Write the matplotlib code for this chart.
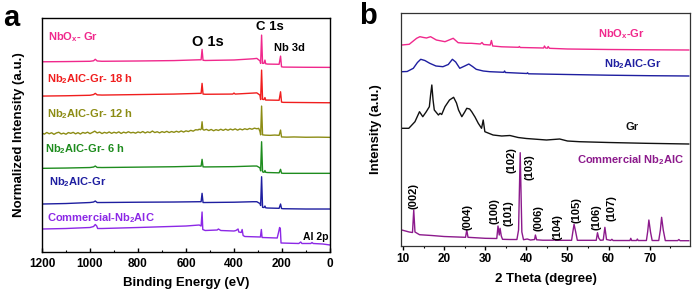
import matplotlib
matplotlib.use("Agg")
import matplotlib.pyplot as plt
from matplotlib.ticker import MultipleLocator

plt.rcParams['font.family'] = ['Liberation Sans', 'DejaVu Sans']
plt.rcParams['font.weight'] = 'bold'
plt.rcParams['mathtext.fontset'] = 'custom'
plt.rcParams['mathtext.rm'] = 'Liberation Sans:bold'
plt.rcParams['mathtext.it'] = 'Liberation Sans:bold'
plt.rcParams['mathtext.bf'] = 'Liberation Sans:bold'

# ---------------- (a) XPS survey : (binding energy eV, intensity a.u.) ----------------
xps_nbox_gr = [(1200, 0), (1100, 0.2), (1000, 0.5), (985, 1), (978, 2.5), (970, 0.8), (950, 0.5),
               (800, 0.8), (650, 1.2), (545, 2), (537, 2), (533, 12.4), (529, 1.5), (520, 1.3),
               (400, 1.8), (320, 3), (305, 3.4), (292, 1), (289, -1.6), (285, 26.7), (281, -1.6),
               (275, -1.5), (271, 1.7), (268, -2), (260, -2.3), (212, -2.5), (206, 5.7), (202, -5),
               (195, -5.3), (100, -5.5), (0, -5.6)]
xps_18h = [(1200, 0), (1100, 0.3), (1000, 0.8), (985, 1.5), (978, 2.7), (970, 1.2), (950, 1),
           (800, 1.5), (650, 2), (545, 2.7), (537, 2.7), (533, 12.7), (529, 2), (520, 1.8),
           (405, 2), (400, 3), (395, 2), (320, 3), (305, 3.2), (292, 1), (289, -3.5), (285, 26),
           (281, -3.3), (275, -3.5), (271, -1.5), (268, -4), (260, -4), (212, -4.2), (206, 4.3),
           (202, -6), (195, -6.3), (100, -6.5), (0, -6.7)]
xps_12h = [(1200, 0.3), (1190, -0.8), (1180, 0.9), (1170, -0.4), (1160, 0.6), (1150, -1.0),
           (1140, 0.4), (1130, 1.1), (1120, -0.6), (1110, 0.2), (1100, -0.9), (1090, 0.8),
           (1080, 0.0), (1070, 1.0), (1060, -0.5), (1050, 0.7), (1040, -0.7), (1030, 0.9),
           (1020, 0.1), (1010, 1.2), (1000, -0.3), (990, 0.9), (980, 2.2), (970, 0.4), (960, 1.3),
           (950, -0.2), (940, 1.0), (930, 0.2), (920, 1.4), (910, 0.0), (900, 1.1), (890, 0.3),
           (880, 1.5), (870, -0.1), (860, 1.2), (850, 0.4), (840, 1.6), (830, 0.5), (820, 1.0),
           (810, 0.2), (800, 1.4), (790, 0.6), (780, 1.8), (770, 0.4), (760, 1.5), (750, 0.7),
           (740, 2.3), (730, 0.8), (720, 1.6), (710, 0.5), (700, 1.7), (690, 0.9), (680, 2.0),
           (670, 0.8), (660, 1.8), (650, 1.0), (640, 2.1), (630, 1.2), (620, 2.4), (610, 1.3),
           (600, 2.5), (590, 1.8), (580, 3.0), (570, 2.2), (560, 3.6), (550, 3.4), (545, 4.2),
           (540, 3.6), (536, 4.5), (533, 11.6), (530, 4.0), (525, 3.2), (515, 4.0), (505, 2.8),
           (495, 3.9), (485, 2.6), (475, 3.7), (465, 2.9), (455, 4.1), (445, 3.0), (435, 4.2),
           (425, 3.1), (415, 4.3), (405, 3.4), (395, 4.5), (385, 3.2), (375, 4.4), (365, 3.5),
           (355, 4.6), (345, 3.8), (335, 4.9), (325, 4.1), (315, 5.2), (305, 4.6), (297, 5.0),
           (292, 2.0), (289, -1.5), (285, 27.3), (281, -1.5), (270, -1.8), (250, -2.0),
           (230, -1.7), (212, -2.0), (206, 3.3), (202, -3.6), (180, -3.8), (150, -3.6),
           (100, -3.9), (50, -3.8), (0, -4.0)]
xps_6h = [(1200, 0), (1100, 0.3), (1000, 0.8), (985, 1.3), (978, 2.3), (970, 0.9), (950, 0.8),
          (800, 1.2), (650, 1.6), (545, 2.2), (537, 2.2), (533, 9), (529, 1.5), (520, 1.4),
          (400, 1.7), (320, 2.3), (305, 2.3), (292, 0.5), (289, -2.5), (285, 26.6), (281, -3.5),
          (275, -4), (271, -2.2), (268, -4), (260, -4.2), (212, -4.5), (206, -1), (202, -4.8),
          (195, -5), (100, -5), (0, -5)]
xps_nb2alc_gr = [(1200, 0), (1100, 0.5), (1000, 1.5), (985, 2), (978, 3), (970, 1.5), (950, 1.5),
                 (800, 1.8), (650, 2), (545, 2.3), (537, 2.3), (533, 10.7), (529, 1.5), (520, 1.5),
                 (400, 1.8), (320, 2.3), (305, 2.3), (292, 0.5), (289, -1.5), (285, 27.3),
                 (281, -3.3), (275, -3.5), (271, -2), (268, -3.8), (260, -4), (212, -4.3),
                 (206, 0), (202, -4.5), (195, -4.7), (100, -5), (0, -5)]
xps_commercial = [(1200, 0), (1100, 0.5), (1000, 1.5), (985, 2.5), (978, 4.5), (972, 3), (968, 0.5),
                  (950, 0.5), (800, 1.5), (600, 3), (545, 4), (537, 3), (533, 17), (530, -0.5),
                  (520, -1.5), (470, -1), (465, 0), (455, -1.5), (400, -2), (392, -1.5), (383, 0),
                  (380, -3), (370, -3.5), (366, -0.5), (362, -6.5), (355, -7.5), (290, -8),
                  (286, -0.5), (283, -8.5), (220, -9), (213, -2), (210, 1.5), (207, 0.5),
                  (204, -14), (130, -14.5), (122, -13), (117, -14.5), (80, -14.5), (75, -13.5),
                  (70, -14.5), (30, -15), (0, -16)]

xps_series = [xps_nbox_gr, xps_18h, xps_12h, xps_6h, xps_nb2alc_gr, xps_commercial]
xps_names = ["NbO$_x$- Gr", "Nb$_2$AlC-Gr- 18 h", "Nb$_2$AlC-Gr- 12 h", "Nb$_2$AlC-Gr- 6 h",
             "Nb$_2$AlC-Gr", "Commercial-Nb$_2$AlC"]
xps_offsets = [190.3, 156, 118.7, 83.7, 48, 23]
xps_colors = ["#f0288c", "#f01e1e", "#8c8c14", "#1e8c1e", "#1e1ea0", "#8c28e6"]
xps_label_pos = [(1175, 215), (1179, 173), (1179, 138), (1187, 103), (1171, 70), (1179, 34)]
xps_peaks = [("O 1s", 508, 210, 10.5), ("C 1s", 250, 225, 9.5), ("Nb 3d", 167, 204, 8),
             ("Al 2p", 58, 15, 7.5)]

# ---------------- (b) XRD : (2 theta, intensity a.u.) ----------------
xrd_nbox_gr = [(9.7, 5), (11.5, 5.7), (13.3, 11.7), (14.1, 13.3), (15.0, 12.5), (15.7, 12),
               (16.7, 13.3), (18.1, 10), (20.2, 8.3), (22.2, 11.7), (23.4, 7.3), (25.4, 6.7),
               (26.6, 6.7), (28.8, 6), (29.2, 7.5), (29.6, 5.5), (31.2, 5), (31.5, 9.5), (31.8, 4),
               (34, 3.2), (38.1, 2.7), (38.3, 3.5), (38.5, 2.5), (44.2, 2), (44.4, 4), (44.7, 2),
               (45.1, 1.8), (45.3, 3.5), (45.6, 1.7), (50, 1), (60, 0.5), (70, 0.2), (79.5, 0)]
xrd_nb2alc_gr = [(9.7, 4.3), (11.0, 4.5), (12.5, 7.7), (13.5, 13.5), (14.3, 16.7), (15.3, 15.5),
                 (16.5, 12.7), (18.0, 10), (19.7, 9.3), (21.0, 11.5), (22.0, 16.7), (22.8, 14),
                 (23.8, 7.7), (25.0, 10), (26.0, 12), (26.9, 9.5), (27.8, 6.7), (29.5, 5),
                 (31.1, 4.3), (34.5, 3.7), (34.7, 5), (34.9, 3.5), (40.1, 2.5), (40.3, 3.2),
                 (40.5, 2.2), (50, 1.5), (60, 0.8), (70, 0.3), (79.5, 0)]
xrd_gr = [(9.7, 15.7), (11.4, 15.7), (12.9, 22.3), (14.0, 32.3), (14.8, 27.3), (15.6, 32),
          (16.4, 37.3), (16.7, 49), (17.0, 59), (17.3, 44), (17.6, 34), (18.6, 29), (19.0, 30.7),
          (19.4, 29.5), (20.2, 37.3), (21.3, 44), (22.3, 46.7), (23.0, 41), (23.5, 34),
          (24.3, 27.3), (25.0, 32), (25.5, 35.7), (26.2, 35), (26.7, 32.3), (27.5, 27),
          (28.3, 20.7), (29.1, 15.7), (29.5, 24), (29.9, 12.3), (31.9, 9), (34, 8), (36.0, 8.5),
          (38, 6.5), (40, 5.5), (44.9, 4), (48.1, 5), (50, 3), (52.9, 2.3), (60, 1.5), (69, 0.7),
          (79.5, 0)]
xrd_commercial = [(9.7, 10.7), (11.5, 8.7), (12.3, 8.2), (12.6, 30.7), (12.9, 8.7), (14, 6),
                  (17, 5.2), (20, 4.2), (25.2, 3.4), (25.5, 10.7), (25.8, 3.4), (30, 2.4),
                  (32.8, 2.2), (33.1, 14.7), (33.4, 5.7), (33.6, 12.4), (33.9, 4.7), (34.2, 1.4),
                  (36, 1.2), (37.7, 1.2), (38.1, 10.7), (38.5, 88), (38.9, 8.7), (39.3, 1),
                  (40.2, 1.7), (41.0, 0.7), (42.0, 1.2), (42.2, 5.7), (42.5, 0.9), (44, 0.5),
                  (46.6, 0.5), (46.8, 1.2), (47.0, 0.4), (51.0, 0.4), (51.3, 8.7), (51.6, 16.4),
                  (52.0, 8.7), (52.4, 0.4), (55, 0.4), (57.0, 0.4), (57.3, 8), (57.6, 2.7),
                  (58.0, 0.4), (58.7, 0.7), (59.1, 13.4), (59.5, 1.2), (60.5, 0.3), (60.8, 1.4),
                  (61.1, 0.2), (63, 0.2), (65.2, 0.2), (65.4, 2.4), (65.6, 0.2), (66.8, 0.2),
                  (67.0, 1.7), (67.2, 0.2), (69.2, 0.2), (69.5, 8.7), (69.8, 20.7), (70.2, 8.7),
                  (70.6, 0.2), (72.2, 0.2), (72.6, 10.7), (72.9, 23.4), (73.3, 10.7), (73.8, 0.1),
                  (76.8, 0.1), (77.1, 1.2), (77.4, 0), (79.5, 0)]

xrd_series = [xrd_nbox_gr, xrd_nb2alc_gr, xrd_gr, xrd_commercial]
xrd_names = ["NbO$_x$-Gr", "Nb$_2$AlC-Gr", "Gr", "Commercial Nb$_2$AlC"]
xrd_offsets = [196, 170, 102, 5.3]
xrd_colors = ["#f0288c", "#1e1ea0", "#111111", "#8c1a8c"]
xrd_label_pos = [(63.0, 212), (65.9, 182), (65.6, 118.7), (65.4, 86)]
hkl_labels = ["(002)", "(004)", "(100)", "(101)", "(102)", "(103)", "(006)", "(104)", "(105)",
              "(106)", "(107)"]
hkl_pos = [(12.6, 50), (25.6, 29.3), (32.3, 35.3), (35.6, 33.3), (36.5, 86), (40.7, 79.3),
           (42.9, 27.7), (47.6, 19.3), (52.2, 36), (57.0, 29.3), (60.8, 38.3)]


fig = plt.figure(figsize=(6.94, 2.92), dpi=100)

# ---- panel a ----
ax1 = fig.add_axes([0.0605, 0.137, 0.415, 0.801])
for data, name, off, c, (tx, ty) in zip(xps_series, xps_names, xps_offsets, xps_colors, xps_label_pos):
    xs = [p[0] for p in data]
    ys = [p[1] + off for p in data]
    ax1.plot(xs, ys, color=c, lw=1.0)
    ax1.text(tx, ty, name, color=c, fontsize=8, fontweight='bold', ha='left', va='center')
for txt, px, py, fs in xps_peaks:
    ax1.text(px, py, txt, color='black', fontsize=fs, fontweight='bold', ha='center', va='center')

ax1.set_xlim(1200, 0)
ax1.set_ylim(0, 234)
ax1.set_yticks([])
ax1.xaxis.set_major_locator(MultipleLocator(200))
ax1.xaxis.set_minor_locator(MultipleLocator(100))
ax1.tick_params(axis='x', which='major', direction='in', length=3, width=1, labelsize=8.5, pad=4)
ax1.tick_params(axis='x', which='minor', direction='in', length=1.5, width=0.8)
for lab in ax1.get_xticklabels():
    lab.set_fontweight('bold')
ax1.set_xlabel("Binding Energy (eV)", fontsize=9.5, fontweight='bold')
ax1.set_ylabel("Normalized Intensity (a.u.)", fontsize=9.5, fontweight='bold')
ax1.xaxis.set_label_coords(0.5, -0.105)
ax1.yaxis.set_label_coords(-0.06, 0.5)
for sp in ax1.spines.values():
    sp.set_linewidth(1.0)
fig.text(0.004, 0.94, "a", fontsize=21, fontweight='bold', ha='left', va='center')

# ---- panel b ----
ax2 = fig.add_axes([0.5778, 0.1575, 0.4164, 0.798])
for data, name, off, c, (tx, ty) in zip(xrd_series, xrd_names, xrd_offsets, xrd_colors, xrd_label_pos):
    xs = [p[0] for p in data]
    ys = [p[1] + off for p in data]
    ax2.plot(xs, ys, color=c, lw=1.0)
    ax2.text(tx, ty, name, color=c, fontsize=8, fontweight='bold', ha='center', va='center')
for lab, (hx, hy) in zip(hkl_labels, hkl_pos):
    ax2.text(hx, hy, lab, color='black', fontsize=8, fontweight='bold', rotation=90,
             ha='center', va='center')

ax2.set_xlim(9.5, 79.8)
ax2.set_ylim(0, 233)
ax2.set_yticks([])
ax2.xaxis.set_major_locator(MultipleLocator(10))
ax2.xaxis.set_minor_locator(MultipleLocator(5))
ax2.tick_params(axis='x', which='major', direction='out', length=3, width=1, labelsize=8.5, pad=2)
ax2.tick_params(axis='x', which='minor', direction='out', length=1.5, width=0.8)
for lab in ax2.get_xticklabels():
    lab.set_fontweight('bold')
ax2.set_xlabel("2 Theta (degree)", fontsize=9.5, fontweight='bold')
ax2.set_ylabel("Intensity (a.u.)", fontsize=9.5, fontweight='bold')
ax2.xaxis.set_label_coords(0.5, -0.115)
ax2.yaxis.set_label_coords(-0.065, 0.5)
for sp in ax2.spines.values():
    sp.set_linewidth(0.9)
    sp.set_color('#333333')
fig.text(0.518, 0.945, "b", fontsize=21, fontweight='bold', ha='left', va='center')

fig.savefig("out.png", dpi=100)
